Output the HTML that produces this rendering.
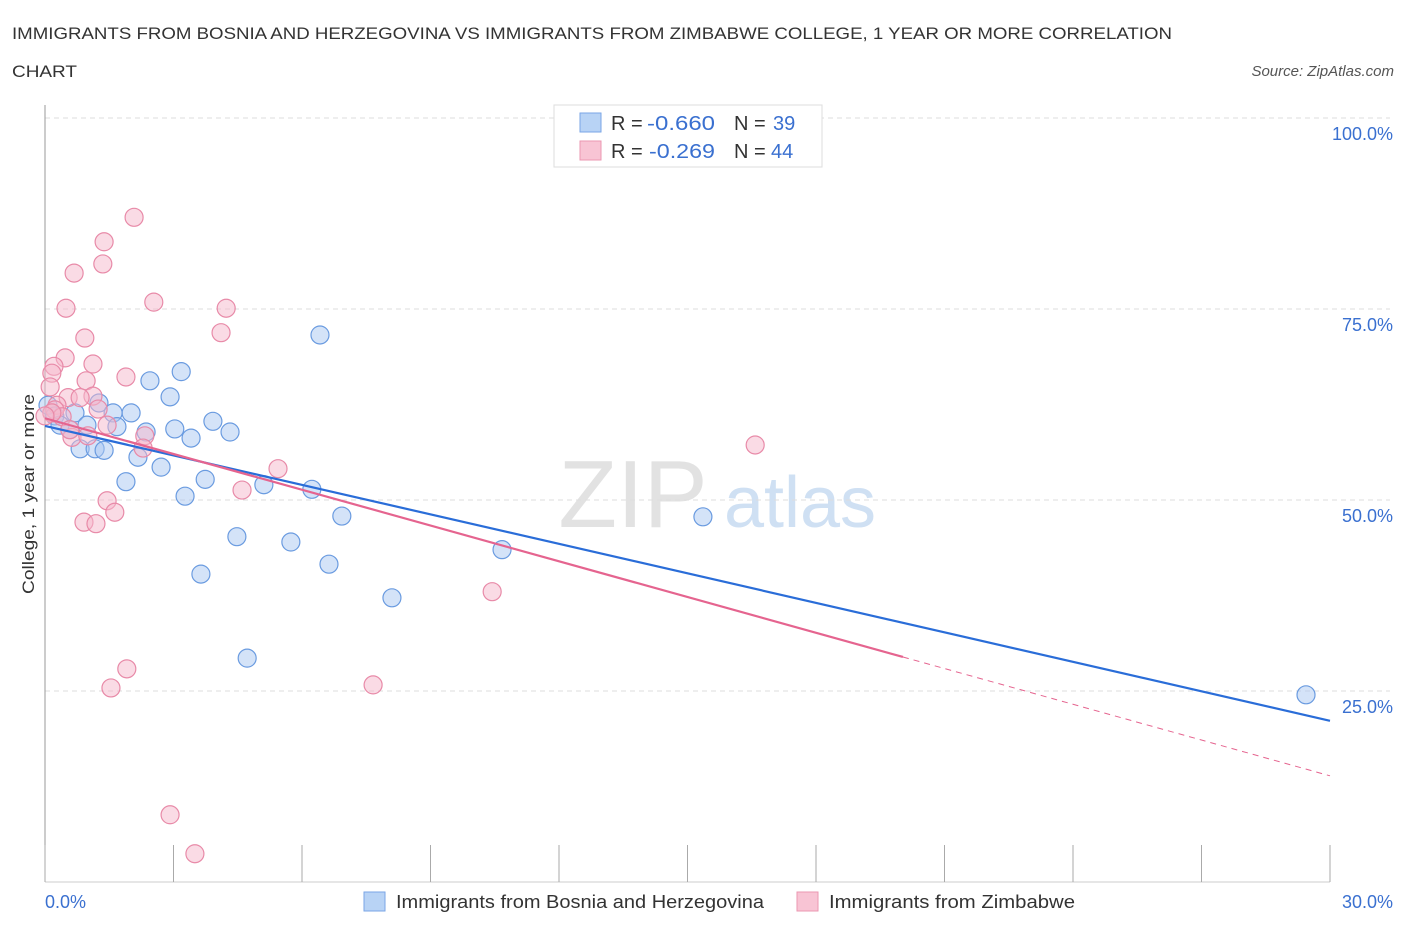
<!DOCTYPE html>
<html><head><meta charset="utf-8"><style>
body{margin:0;background:#fff;font-family:"Liberation Sans",sans-serif;}
svg text{font-family:"Liberation Sans",sans-serif;}
</style></head><body>
<svg id="chart" width="1406" height="930" xmlns="http://www.w3.org/2000/svg">
<text x="12" y="39" font-size="17" fill="#333" textLength="1160" lengthAdjust="spacingAndGlyphs">IMMIGRANTS FROM BOSNIA AND HERZEGOVINA VS IMMIGRANTS FROM ZIMBABWE COLLEGE, 1 YEAR OR MORE CORRELATION</text>
<text x="12" y="77" font-size="17" fill="#333" textLength="65" lengthAdjust="spacingAndGlyphs">CHART</text>
<text x="1394" y="76" font-size="15" fill="#555" font-style="italic" text-anchor="end">Source: ZipAtlas.com</text>
<g>
<text x="633" y="527" font-size="96" fill="#e2e2e2" font-family="Liberation Serif" text-anchor="middle">ZIP</text>
<text x="800" y="527" font-size="72" fill="#cfe0f3" text-anchor="middle">atlas</text>
</g>
<g id="grid"></g>
<g id="axes"></g>
<g id="pts"></g>
<g id="lines"></g>
<text transform="translate(34,494) rotate(-90)" font-size="17" fill="#333" text-anchor="middle" textLength="200" lengthAdjust="spacingAndGlyphs">College, 1 year or more</text>
<g>
<rect x="554" y="105" width="268" height="62" fill="#fff" stroke="#ddd"/>
<rect x="580" y="113" width="21" height="19" fill="#b8d3f5" stroke="#7aa6e6"/>
<rect x="580" y="141" width="21" height="19" fill="#f8c4d4" stroke="#eb97b2"/>
<text x="611" y="130" font-size="20" fill="#333">R = </text>
<text x="647" y="130" font-size="20" fill="#3a70d0" textLength="68" lengthAdjust="spacingAndGlyphs">-0.660</text>
<text x="734" y="130" font-size="20" fill="#333">N = </text>
<text x="773" y="130" font-size="20" fill="#3a70d0">39</text>
<text x="611" y="158" font-size="20" fill="#333">R = </text>
<text x="649" y="158" font-size="20" fill="#3a70d0" textLength="66" lengthAdjust="spacingAndGlyphs">-0.269</text>
<text x="734" y="158" font-size="20" fill="#333">N = </text>
<text x="771" y="158" font-size="20" fill="#3a70d0">44</text>
</g>
<g>
<rect x="364" y="892" width="21" height="19" fill="#b8d3f5" stroke="#7aa6e6"/>
<text x="396" y="908" font-size="18" fill="#333" textLength="368" lengthAdjust="spacingAndGlyphs">Immigrants from Bosnia and Herzegovina</text>
<rect x="797" y="892" width="21" height="19" fill="#f8c4d4" stroke="#eb97b2"/>
<text x="829" y="908" font-size="18" fill="#333" textLength="246" lengthAdjust="spacingAndGlyphs">Immigrants from Zimbabwe</text>
</g>
</svg>
<script>
const yTicks=[25,50,75,100];
const yTickLabels=["25.0%","50.0%","75.0%","100.0%"];
const xTickLabels=["0.0%","30.0%"];
const blueX=[6.42,3.18,2.45,2.92,1.26,2.01,1.59,3.92,0.07,0.23,0.70,0.35,0.58,1.68,2.36,3.03,4.32,3.41,0.98,0.82,1.17,1.38,2.17,2.71,1.89,3.74,3.27,5.11,6.23,6.93,4.48,5.74,6.63,3.64,10.67,8.10,4.72,15.36,29.44];
const blueY=[71.6,66.8,65.6,63.5,62.7,61.4,61.4,60.3,62.4,61.0,61.4,59.8,59.2,59.6,58.9,59.3,58.9,58.1,59.8,56.7,56.7,56.5,55.6,54.3,52.4,52.7,50.5,52.0,51.4,47.9,45.2,44.5,41.6,40.3,43.5,37.2,29.3,47.8,24.5];
const pinkX=[2.08,1.38,1.35,0.68,2.54,4.23,0.49,4.11,0.93,0.47,1.12,0.21,0.16,1.89,0.12,0.96,0.54,1.12,0.82,1.24,0.28,0.23,0.40,0.16,0.63,1.00,1.45,2.33,2.29,5.44,4.60,1.45,1.63,0.91,1.19,16.58,10.44,1.91,1.54,7.66,2.92,3.50,0.58,0.00];
const pinkY=[87.0,83.8,80.9,79.7,75.9,75.1,75.1,71.9,71.2,68.6,67.8,67.5,66.6,66.1,64.8,65.6,63.4,63.6,63.4,61.9,62.4,61.8,60.9,61.4,58.2,58.4,59.8,58.4,56.8,54.1,51.3,49.9,48.4,47.1,46.9,57.2,38.0,27.9,25.4,25.8,8.8,3.7,59.2,61.0];
const blueTrend=[59.7,21.1];
const pinkTrend=[60.7,13.9];
const pinkSolidEnd=20.03;
const NS="http://www.w3.org/2000/svg";
const X0=45,X1=1330,Y0=882,Y100=118;
function sx(v){return X0+(X1-X0)*v/30;}
function sy(v){return Y0-(Y0-Y100)*v/100;}
function mk(tag,attrs,parent){const e=document.createElementNS(NS,tag);for(const k in attrs)e.setAttribute(k,attrs[k]);parent.appendChild(e);return e;}
const grid=document.getElementById('grid'),axes=document.getElementById('axes'),pts=document.getElementById('pts'),lines=document.getElementById('lines');
yTicks.forEach((t,i)=>{
 const l=mk('line',{x1:X0,x2:X1+60,y1:sy(t),y2:sy(t),stroke:'#ddd','stroke-dasharray':'5,4'},grid);
 
 
 const tx=mk('text',{x:1393,y:sy(t)+22,'font-size':18,fill:'#3a70d0','text-anchor':'end'},grid);
 tx.textContent=yTickLabels[i];
 
 
});
const ax=mk('line',{x1:X0,x2:X0,y1:105,y2:Y0,stroke:'#999'},axes);


const bx=mk('line',{x1:X0,x2:X1,y1:Y0,y2:Y0,stroke:'#ccc'},axes);


for(let i=0;i<=10;i++){const t=mk('line',{x1:sx(i*3),x2:sx(i*3),y1:845,y2:Y0,stroke:'#aaa'},axes);
 
 }
[[0,'start',45],[1,'end',1393]].forEach(([i,a,x])=>{const t=mk('text',{x:x,y:908,'font-size':18,fill:'#3a70d0','text-anchor':a},axes);t.textContent=xTickLabels[i];
 
 });
function dots(xs,ys,fill,stroke,name){xs.forEach((x,i)=>{const c=mk('circle',{cx:sx(x),cy:sy(ys[i]),r:9,fill:fill,'fill-opacity':0.5,stroke:stroke,'stroke-width':1.2},pts);
 
 });}
dots(blueX,blueY,'#a9c8f2','#6a9be0','point-bosnia');
dots(pinkX,pinkY,'#f6b7cb','#e88aa8','point-zimbabwe');
function val(tr,x){return tr[0]+(tr[1]-tr[0])*x/30;}
const bl=mk('line',{x1:sx(0),y1:sy(blueTrend[0]),x2:sx(30),y2:sy(blueTrend[1]),stroke:'#2a6dd8','stroke-width':2.2},lines);


const pl=mk('line',{x1:sx(0),y1:sy(pinkTrend[0]),x2:sx(pinkSolidEnd),y2:sy(val(pinkTrend,pinkSolidEnd)),stroke:'#e5648f','stroke-width':2.2},lines);


const pd=mk('line',{x1:sx(pinkSolidEnd),y1:sy(val(pinkTrend,pinkSolidEnd)),x2:sx(30),y2:sy(pinkTrend[1]),stroke:'#e5648f','stroke-width':1,'stroke-dasharray':'6,5'},lines);


</script>
</body></html>
